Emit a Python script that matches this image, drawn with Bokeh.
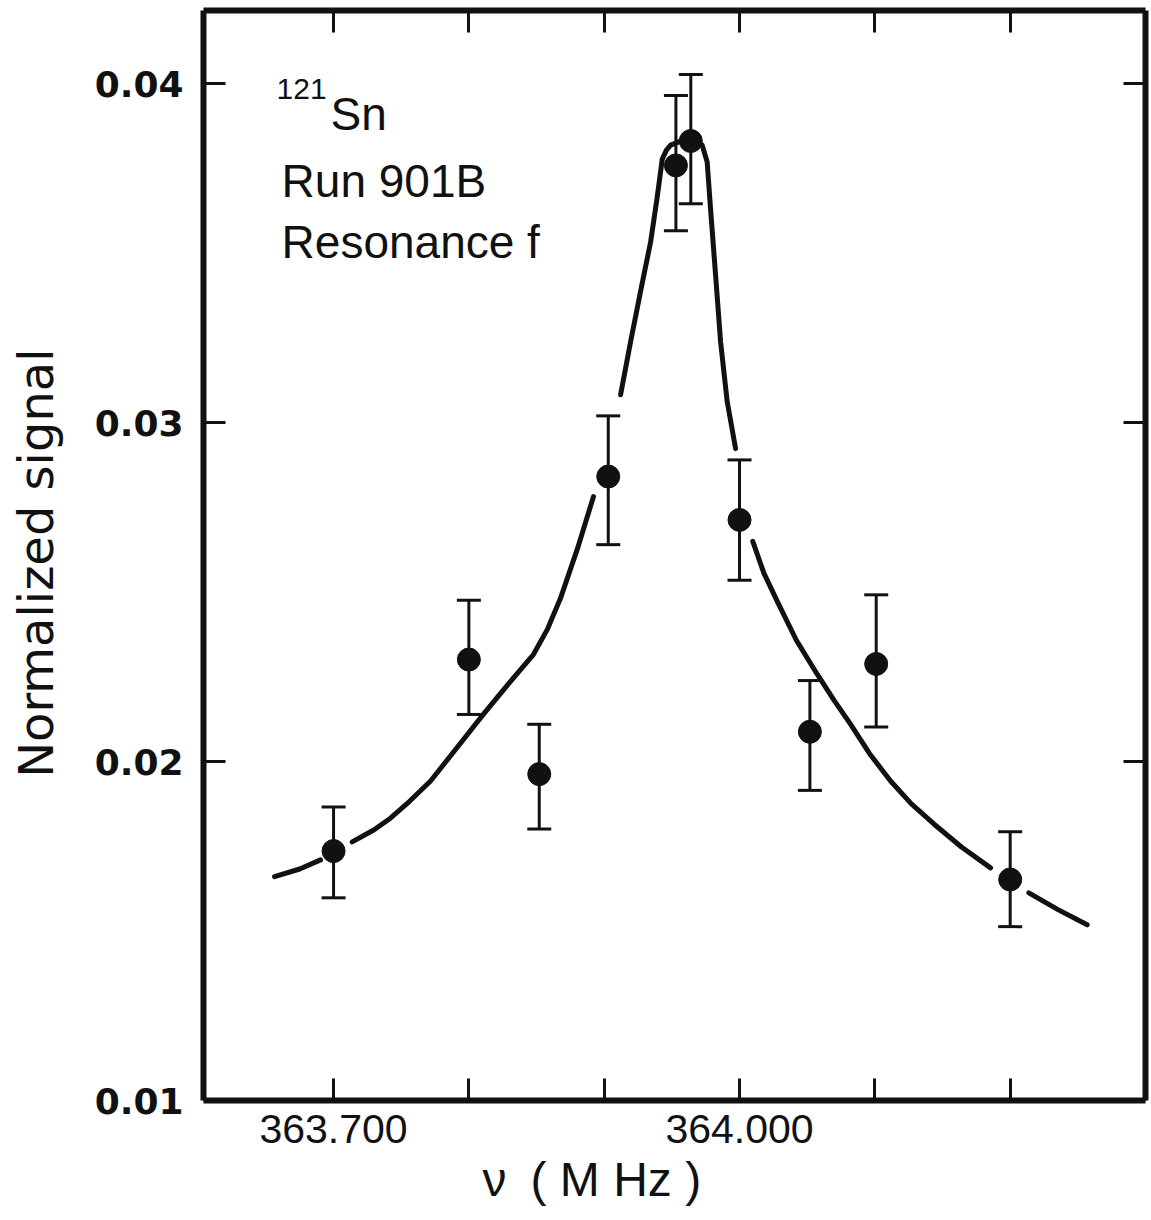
from bokeh.plotting import figure
from bokeh.models import Range1d, LinearAxis, FixedTicker, Label, Title
from bokeh.embed import file_html
from bokeh.resources import INLINE

nan = float("nan")

# measured points
freq = [363.700, 363.800, 363.852, 363.903, 363.953, 363.964, 364.000, 364.052, 364.101, 364.200]
signal = [0.01736, 0.02301, 0.01963, 0.02841, 0.03759, 0.03831, 0.02713, 0.02088, 0.02288, 0.01652]
err_hi = [0.01866, 0.02476, 0.02110, 0.03020, 0.03965, 0.04027, 0.02890, 0.02239, 0.02492, 0.01793]
err_lo = [0.01598, 0.02139, 0.01801, 0.02640, 0.03566, 0.03646, 0.02535, 0.01915, 0.02102, 0.01513]

# fitted curve (broken around some points, as drawn)
fit_freq = [363.6564, 363.6750, 363.6904, nan,
            363.7138, 363.7300, 363.7420, 363.7560, 363.7717, 363.7900, 363.8108, 363.8300,
            363.8478, 363.8580, 363.8677, 363.8803, 363.8921, nan,
            363.9121, 363.9195, 363.9270, 363.9343, 363.9390, 363.9429, 363.9460, 363.9491,
            363.9565, 363.9653, 363.9724, 363.9761, 363.9786, 363.9823, 363.9860, 363.9909,
            363.9971, nan,
            364.0098, 364.0180, 364.0279, 364.0420, 364.0574, 364.0700, 364.0820, 364.0960,
            364.1116, 364.1270, 364.1436, 364.1640, 364.1855, nan,
            364.2138, 364.2350, 364.2569]
fit_signal = [0.016607, 0.016830, 0.017099, nan,
              0.017629, 0.017990, 0.018330, 0.018820, 0.019426, 0.020350, 0.021399, 0.022330,
              0.023166, 0.023900, 0.024816, 0.026289, 0.027820, nan,
              0.030825, 0.032386, 0.033900, 0.035331, 0.036600, 0.037776, 0.038040, 0.038189,
              0.038306, 0.038365, 0.038189, 0.037688, 0.036303, 0.034359, 0.032386, 0.030619,
              0.029234, nan,
              0.026495, 0.025560, 0.024728, 0.023580, 0.022577, 0.021800, 0.021105, 0.020240,
              0.019426, 0.018750, 0.018159, 0.017480, 0.016863, nan,
              0.016127, 0.015640, 0.015184]

x_ticks = [363.7, 363.8, 363.9, 364.0, 364.1, 364.2]
x_tick_labels = ["363.700", "", "", "364.000", "", ""]
y_ticks = [0.01, 0.02, 0.03, 0.04]
y_tick_labels = ["0.01", "0.02", "0.03", "0.04"]

p = figure(width=1151, height=1220, output_backend="svg", toolbar_location=None,
           x_range=Range1d(363.6039, 364.300), y_range=Range1d(0.0100, 0.04216),
           min_border_left=203, min_border_right=6, min_border_top=10, min_border_bottom=120)
p.outline_line_color = None
p.grid.visible = False
p.background_fill_color = "white"
p.border_fill_color = "white"

INK = "#111111"

def style_axis(ax, ticks, labels, font, size, weight, standoff):
    ax.ticker = FixedTicker(ticks=ticks)
    ax.major_label_overrides = {t: l for t, l in zip(ticks, labels)}
    ax.axis_line_width = 6
    ax.axis_line_color = INK
    ax.major_tick_in = 22
    ax.major_tick_out = 0
    ax.major_tick_line_width = 3
    ax.major_tick_line_color = INK
    ax.minor_tick_line_color = None
    ax.major_label_text_font = font
    ax.major_label_text_font_size = size
    ax.major_label_text_font_style = weight
    ax.major_label_text_color = INK
    ax.major_label_standoff = standoff

style_axis(p.xaxis[0], x_ticks, x_tick_labels, "Liberation Sans", "41px", "normal", 14)
style_axis(p.yaxis[0], y_ticks, y_tick_labels, "DejaVu Sans", "36px", "bold", 20)

p.yaxis[0].axis_label = "Normalized  signal"
p.yaxis[0].axis_label_text_font = "DejaVu Sans"
p.yaxis[0].axis_label_text_font_size = "48px"
p.yaxis[0].axis_label_text_font_style = "normal"
p.yaxis[0].axis_label_text_color = INK
p.yaxis[0].axis_label_standoff = 28

top_ax = LinearAxis()
style_axis(top_ax, x_ticks, [""] * len(x_ticks), "Liberation Sans", "1px", "normal", 0)
p.add_layout(top_ax, "above")
right_ax = LinearAxis()
style_axis(right_ax, y_ticks, [""] * len(y_ticks), "Liberation Sans", "1px", "normal", 0)
p.add_layout(right_ax, "right")

# x-axis title, placed left of centre as in the original
x_title = Title(text="\u03bd\u2002( M Hz )", align="left", offset=279, standoff=11,
                text_font="Liberation Sans", text_font_size="48px",
                text_font_style="normal", text_color=INK)
p.add_layout(x_title, "below")

# fitted curve
p.line(fit_freq, fit_signal, line_color=INK, line_width=5, line_cap="round", line_join="round")

# error bars
p.segment(x0=freq, y0=err_lo, x1=freq, y1=err_hi, line_color=INK, line_width=3)
p.scatter(freq, err_hi, marker="dash", size=24, line_color=INK, line_width=3)
p.scatter(freq, err_lo, marker="dash", size=24, line_color=INK, line_width=3)

# points
p.scatter(freq, signal, size=23, fill_color=INK, line_color=INK)

def add_text(x, y, text, size, font="Liberation Sans", style="normal"):
    p.add_layout(Label(x=x, y=y, text=text, text_font=font, text_font_size=size,
                       text_font_style=style, text_color=INK,
                       text_align="left", text_baseline="alphabetic"))

add_text(363.6579, 0.03984, "121", "30px")
add_text(363.6978, 0.03910, "Sn", "46px")
add_text(363.6616, 0.03713, "Run 901B", "46px")
add_text(363.6616, 0.03533, "Resonance f", "46px")

open("out.html", "w").write(file_html(p, INLINE))
